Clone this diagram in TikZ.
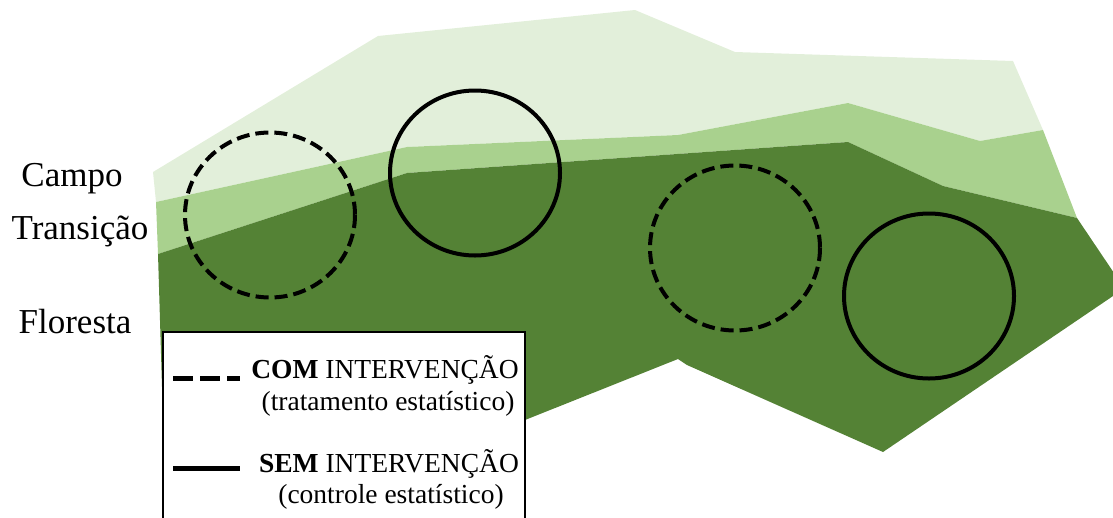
\documentclass[tikz,border=0pt]{standalone}
\usepackage{fontspec}
\setmainfont{Liberation Serif}
\definecolor{campo}{HTML}{E2EFDA}
\definecolor{transicao}{HTML}{A9D18E}
\definecolor{floresta}{HTML}{548235}
\begin{document}
\begin{tikzpicture}[x=1pt,y=-1pt,
  zonelabel/.style={anchor=base,inner sep=0pt,font=\fontsize{35}{35}\selectfont},
  legtext/.style={anchor=base,inner sep=0pt,font=\fontsize{27.5}{28}\selectfont},
  plotline/.style={line width=4pt},
  plotdash/.style={line width=4pt,dash pattern=on 13pt off 6pt},
]
\useasboundingbox (0,0) rectangle (1113,517);
\clip (0,0) rectangle (1113,517);
% zones
\fill[campo] (153,172) -- (378,36) -- (635,10) -- (735,52) -- (1013,61) -- (1043,130)
  -- (980,141) -- (848,103) -- (678,135) -- (407,147) -- (156,202) -- cycle;
\fill[transicao] (156,202) -- (407,147) -- (678,135) -- (848,103) -- (980,141) -- (1043,130)
  -- (1077,218) -- (943,186) -- (848,142) -- (407,173) -- (158,254) -- cycle;
\fill[floresta] (158,254) -- (407,173) -- (848,142) -- (943,186) -- (1077,218)
  -- (1116,276) -- (1116,294) -- (883,452) -- (687,365) -- (678,359) -- (525,420)
  -- (163,420) -- cycle;
% plots
\draw[plotdash] (270,215) ellipse [x radius=85, y radius=82.5];
\draw[plotline] (475,173) ellipse [x radius=85, y radius=82.5];
\draw[plotdash] (735,248) ellipse [x radius=85, y radius=82.5];
\draw[plotline] (929,296) ellipse [x radius=85, y radius=82.5];
% zone labels
\node[zonelabel] (campoL) at (72,186) {Campo};
\node[zonelabel] (transL) at (80,239) {Transição};
\node[zonelabel] (florL) at (75,333) {Floresta};
% legend
\draw[fill=white,line width=1.5pt] (163,332) rectangle (525,540);
\coordinate (d1) at (173,378);
\coordinate (d2) at (240,378);
\coordinate (s1) at (173,468);
\coordinate (s2) at (240,468);
\draw[line width=5pt,dash pattern=on 20pt off 7pt] (d1) -- (d2);
\draw[line width=5pt] (s1) -- (s2);
\node[legtext] (com) at (385,378) {\textbf{COM} INTERVENÇÃO};
\node[legtext] (comsub) at (388,410) {(tratamento estatístico)};
\node[legtext] (sem) at (389,472) {\textbf{SEM} INTERVENÇÃO};
\node[legtext] (semsub) at (391,503) {(controle estatístico)};
\end{tikzpicture}
\end{document}
